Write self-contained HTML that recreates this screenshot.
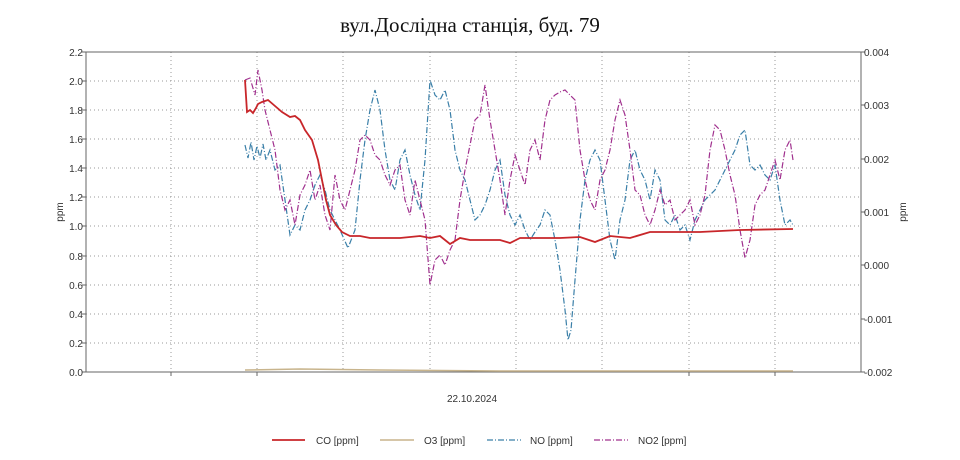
<!DOCTYPE html>
<html><head><meta charset="utf-8"><style>
body{margin:0;background:#fff;}
svg text{font-family:"Liberation Sans",sans-serif;font-size:10px;fill:#333;}
</style></head><body>
<svg width="960" height="455" xmlns="http://www.w3.org/2000/svg">
<text x="470" y="32" text-anchor="middle" style="font-family:'Liberation Serif',serif;font-size:21px;fill:#111">вул.Дослідна станція, буд. 79</text>
<g stroke="#999" stroke-width="1" stroke-dasharray="1,3">
<line x1="86" y1="81" x2="861" y2="81"/><line x1="86" y1="110" x2="861" y2="110"/><line x1="86" y1="139" x2="861" y2="139"/><line x1="86" y1="168" x2="861" y2="168"/><line x1="86" y1="197" x2="861" y2="197"/><line x1="86" y1="226" x2="861" y2="226"/><line x1="86" y1="256" x2="861" y2="256"/><line x1="86" y1="285" x2="861" y2="285"/><line x1="86" y1="314" x2="861" y2="314"/><line x1="86" y1="343" x2="861" y2="343"/>
<line x1="171" y1="52" x2="171" y2="372"/><line x1="257" y1="52" x2="257" y2="372"/><line x1="343" y1="52" x2="343" y2="372"/><line x1="430" y1="52" x2="430" y2="372"/><line x1="516" y1="52" x2="516" y2="372"/><line x1="602" y1="52" x2="602" y2="372"/><line x1="689" y1="52" x2="689" y2="372"/><line x1="775" y1="52" x2="775" y2="372"/>
</g>
<g stroke="#666" stroke-width="1" fill="none">
<line x1="86" y1="52" x2="861" y2="52"/><line x1="86" y1="372" x2="861" y2="372"/>
<line x1="86" y1="52" x2="86" y2="372"/><line x1="861" y1="52" x2="861" y2="372"/>
</g>
<g stroke="#666" stroke-width="1">
<line x1="82" y1="52" x2="86" y2="52"/><line x1="82" y1="81" x2="86" y2="81"/><line x1="82" y1="110" x2="86" y2="110"/><line x1="82" y1="139" x2="86" y2="139"/><line x1="82" y1="168" x2="86" y2="168"/><line x1="82" y1="197" x2="86" y2="197"/><line x1="82" y1="226" x2="86" y2="226"/><line x1="82" y1="256" x2="86" y2="256"/><line x1="82" y1="285" x2="86" y2="285"/><line x1="82" y1="314" x2="86" y2="314"/><line x1="82" y1="343" x2="86" y2="343"/><line x1="82" y1="372" x2="86" y2="372"/>
<line x1="861" y1="52" x2="865" y2="52"/><line x1="861" y1="105" x2="865" y2="105"/><line x1="861" y1="159" x2="865" y2="159"/><line x1="861" y1="212" x2="865" y2="212"/><line x1="861" y1="265" x2="865" y2="265"/><line x1="861" y1="319" x2="865" y2="319"/><line x1="861" y1="372" x2="865" y2="372"/>
<line x1="171" y1="372" x2="171" y2="376"/><line x1="257" y1="372" x2="257" y2="376"/><line x1="689" y1="372" x2="689" y2="376"/><line x1="775" y1="372" x2="775" y2="376"/>
</g>
<g text-anchor="end">
<text x="83" y="56">2.2</text><text x="83" y="85">2.0</text><text x="83" y="114">1.8</text><text x="83" y="143">1.6</text><text x="83" y="172">1.4</text><text x="83" y="201">1.2</text><text x="83" y="230">1.0</text><text x="83" y="260">0.8</text><text x="83" y="289">0.6</text><text x="83" y="318">0.4</text><text x="83" y="347">0.2</text><text x="83" y="376">0.0</text>
</g>
<g>
<text x="864" y="56">0.004</text><text x="864" y="109">0.003</text><text x="864" y="163">0.002</text><text x="864" y="216">0.001</text><text x="864" y="269">0.000</text><text x="864" y="323">-0.001</text><text x="864" y="376">-0.002</text>
</g>
<text transform="translate(63,212) rotate(-90)" text-anchor="middle">ppm</text>
<text transform="translate(906,212) rotate(-90)" text-anchor="middle">ppm</text>
<text x="472" y="402" text-anchor="middle">22.10.2024</text>
<polyline fill="none" stroke="#c8b48c" stroke-width="1.5" points="245,370 300,369 380,370 500,371 793,371"/>
<polyline fill="none" stroke="#3a7fa8" stroke-width="1.2" stroke-dasharray="6,2,1,2" points="245,145 248,158 251,142 254,160 257,146 260,158 263,144 266,160 270,150 275,170 280,165 285,200 290,235 295,225 300,230 305,210 310,200 315,185 320,175 325,190 330,210 335,220 340,230 348,248 355,230 360,180 365,140 370,110 375,90 380,110 385,150 390,180 395,190 400,160 405,150 410,175 415,195 420,210 425,160 430,80 435,95 440,100 445,90 450,110 455,150 460,170 465,180 470,200 475,220 480,215 485,205 490,190 495,170 500,160 505,195 510,215 515,225 520,215 525,230 530,240 535,232 540,225 545,210 550,215 555,240 560,270 565,310 568,340 571,330 575,280 580,220 585,180 590,160 595,150 600,160 605,200 610,240 615,260 620,220 625,200 630,160 635,150 640,170 645,180 650,200 655,170 660,180 665,220 670,225 675,215 680,230 685,225 690,240 695,220 700,210 705,200 710,195 715,190 720,180 725,170 730,160 735,150 740,135 745,130 750,165 755,170 760,165 765,175 770,180 775,165 780,200 785,225 790,220 793,225"/>
<polyline fill="none" stroke="#a0308e" stroke-width="1.2" stroke-dasharray="6,2,1,2" points="245,80 250,78 255,95 258,70 262,90 265,110 270,130 275,150 280,190 285,210 290,200 295,225 300,195 305,185 310,170 315,200 320,185 325,215 330,230 335,175 340,200 345,210 350,190 355,170 360,140 365,135 370,140 375,155 380,160 385,175 390,185 395,170 400,165 405,200 410,215 415,180 420,200 425,220 430,285 435,260 440,255 445,265 450,250 455,240 460,200 465,170 470,145 475,120 480,115 485,85 490,120 495,150 500,180 505,215 510,180 515,155 520,170 525,185 530,150 535,140 540,160 545,120 550,100 555,95 560,92 565,90 570,95 575,100 580,150 585,180 590,200 595,210 600,180 605,170 610,150 615,120 620,100 625,115 630,150 635,190 640,195 645,215 650,225 655,210 660,190 665,205 670,200 675,220 680,215 685,210 690,200 695,225 700,215 705,195 710,150 715,125 720,130 725,150 730,175 735,195 740,230 745,258 750,240 755,205 760,195 765,190 770,175 775,160 780,180 785,150 790,140 793,160"/>
<polyline fill="none" stroke="#c8262a" stroke-width="1.8" points="245,80 247,112 250,110 253,113 256,108 258,104 262,102 268,100 275,106 282,112 290,117 295,116 300,120 305,130 312,140 318,160 322,180 326,200 330,215 336,225 342,232 350,236 360,236 370,238 400,238 420,236 430,238 440,236 450,244 460,238 470,240 500,240 510,243 520,238 560,238 580,237 595,242 610,236 630,238 650,232 700,232 740,230 793,229"/>
<line x1="272" y1="440" x2="305" y2="440" stroke="#c8262a" stroke-width="1.8"/>
<text x="316" y="444">CO [ppm]</text>
<line x1="380" y1="440" x2="414" y2="440" stroke="#c8b48c" stroke-width="1.5"/>
<text x="424" y="444">O3 [ppm]</text>
<line x1="487" y1="440" x2="521" y2="440" stroke="#3a7fa8" stroke-width="1.2" stroke-dasharray="6,2,1,2"/>
<text x="530" y="444">NO [ppm]</text>
<line x1="594" y1="440" x2="628" y2="440" stroke="#a0308e" stroke-width="1.2" stroke-dasharray="6,2,1,2"/>
<text x="638" y="444">NO2 [ppm]</text>
</svg>
</body></html>
